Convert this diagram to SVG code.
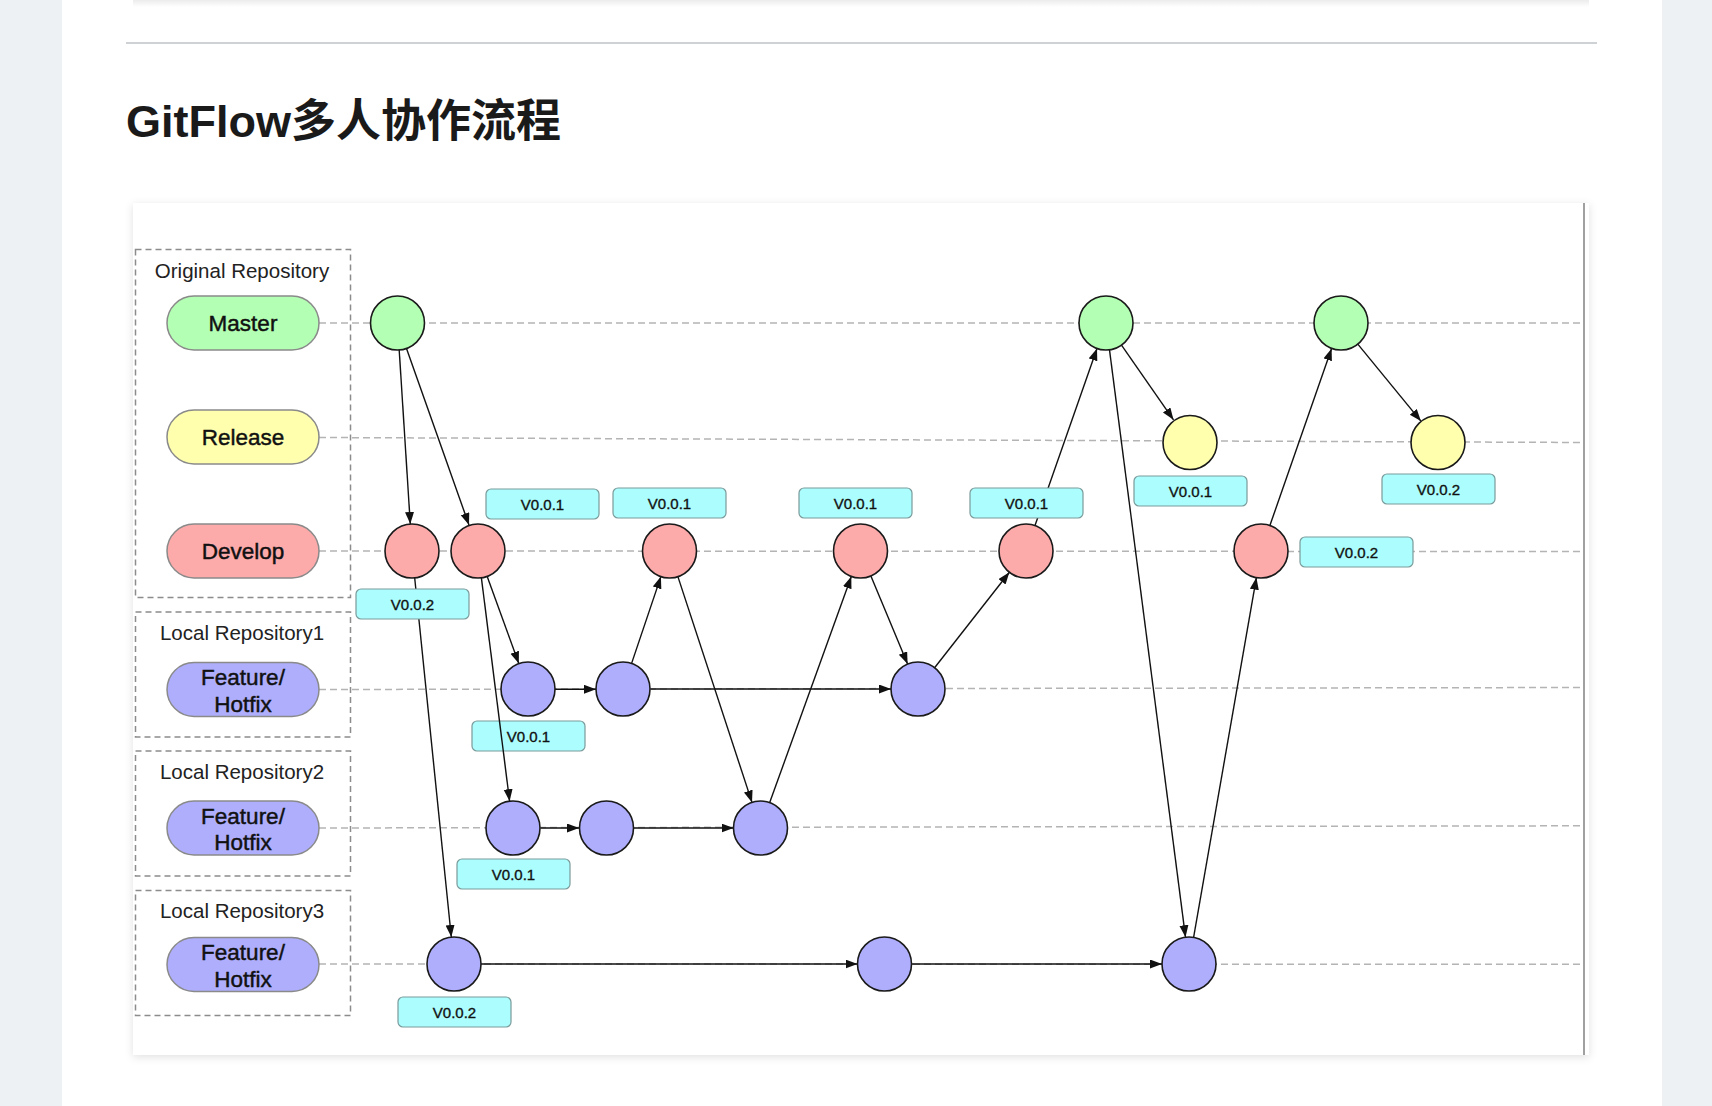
<svg xmlns="http://www.w3.org/2000/svg" width="1712" height="1106" viewBox="0 0 1712 1106">
<defs>
  <style>
    .lane{stroke:#b4b4b4;stroke-width:1.5;stroke-dasharray:7 4;fill:none}
    .box{stroke:#8c8c8c;stroke-width:1.5;stroke-dasharray:6 4;fill:none}
    .pill{stroke:#8a8a8a;stroke-width:1.5}
    .c{stroke:#1a1a1a;stroke-width:1.6}
    .g{fill:#b3ffb3}.y{fill:#ffffad}.r{fill:#fcaaaa}.p{fill:#aeaefc}
    .lbl{fill:#acfdfd;stroke:#7b9b9b;stroke-width:1.2}
    .edge{stroke:#111;stroke-width:1.4;fill:none;marker-end:url(#ah)}
    .pt{font-family:"Liberation Sans",Arial,sans-serif;font-size:22.5px;fill:#111;stroke:#111;stroke-width:0.45;text-anchor:middle}
    .rt{font-family:"Liberation Sans",Arial,sans-serif;font-size:20.5px;fill:#222;text-anchor:middle}
    .vt{font-family:"Liberation Sans",Arial,sans-serif;font-size:15px;fill:#111;stroke:#111;stroke-width:0.35;text-anchor:middle}
  </style>
  <marker id="ah" markerUnits="userSpaceOnUse" markerWidth="13" markerHeight="10" refX="12" refY="4.5" orient="auto">
    <path d="M0,0 L12,4.5 L0,9 z" fill="#111"/>
  </marker>
  <filter id="sh" x="-5%" y="-5%" width="110%" height="110%">
    <feDropShadow dx="0" dy="2" stdDeviation="4" flood-color="#000" flood-opacity="0.12"/>
  </filter>
  <linearGradient id="topsh" x1="0" y1="0" x2="0" y2="1">
    <stop offset="0" stop-color="#ececec"/>
    <stop offset="1" stop-color="#ffffff"/>
  </linearGradient>
</defs>

<!-- page -->
<rect x="0" y="0" width="1712" height="1106" fill="#eef1f3"/>
<rect x="62" y="0" width="1600" height="1106" fill="#ffffff"/>
<rect x="133" y="0" width="1456" height="7" fill="url(#topsh)"/>
<line x1="126" y1="43" x2="1597" y2="43" stroke="#cfd2d5" stroke-width="2"/>
<text x="126" y="137" font-family="'Liberation Sans','Noto Sans CJK SC',sans-serif" font-weight="bold" font-size="45" fill="#1a1a1a">GitFlow多人协作流程</text>

<!-- diagram image frame -->
<rect x="133" y="203" width="1456" height="852" fill="#ffffff" filter="url(#sh)"/>
<line x1="1584" y1="203" x2="1584" y2="1055" stroke="#a0a0a0" stroke-width="2"/>

<!-- lanes -->
<g id="lanes">
  <line class="lane" x1="319" y1="323" x2="1583" y2="323"/>
  <line class="lane" x1="319" y1="437.5" x2="1583" y2="442.5"/>
  <line class="lane" x1="319" y1="551" x2="1583" y2="551.5"/>
  <line class="lane" x1="319" y1="689.5" x2="1583" y2="687.5"/>
  <line class="lane" x1="319" y1="828" x2="1583" y2="825.8"/>
  <line class="lane" x1="319" y1="964" x2="1583" y2="964.3"/>
</g>

<!-- repository boxes -->
<g id="repo-original">
  <rect class="box" x="135.5" y="249.5" width="215" height="348"/>
  <text class="rt" x="242" y="278">Original Repository</text>
</g>
<g id="repo-local1">
  <rect class="box" x="135.5" y="612" width="215" height="125"/>
  <text class="rt" x="242" y="640">Local Repository1</text>
</g>
<g id="repo-local2">
  <rect class="box" x="135.5" y="751" width="215" height="125"/>
  <text class="rt" x="242" y="779">Local Repository2</text>
</g>
<g id="repo-local3">
  <rect class="box" x="135.5" y="890.5" width="215" height="125"/>
  <text class="rt" x="242" y="918">Local Repository3</text>
</g>

<!-- branch pills -->
<g id="pill-master"><rect class="pill g" x="167" y="296" width="152" height="54" rx="27"/><text class="pt" x="243" y="331">Master</text></g>
<g id="pill-release"><rect class="pill y" x="167" y="410" width="152" height="54" rx="27"/><text class="pt" x="243" y="445">Release</text></g>
<g id="pill-develop"><rect class="pill r" x="167" y="524" width="152" height="54" rx="27"/><text class="pt" x="243" y="559">Develop</text></g>
<g id="pill-feature1"><rect class="pill p" x="167" y="662.5" width="152" height="54" rx="27"/><text class="pt" x="243" y="685">Feature/</text><text class="pt" x="243" y="711.5">Hotfix</text></g>
<g id="pill-feature2"><rect class="pill p" x="167" y="801" width="152" height="54" rx="27"/><text class="pt" x="243" y="823.5">Feature/</text><text class="pt" x="243" y="850">Hotfix</text></g>
<g id="pill-feature3"><rect class="pill p" x="167" y="937.5" width="152" height="54" rx="27"/><text class="pt" x="243" y="960">Feature/</text><text class="pt" x="243" y="986.5">Hotfix</text></g>

<!-- connectors -->
<g id="connectors">
  <line class="edge" x1="399.2" y1="350" x2="410.3" y2="524"/>
  <line class="edge" x1="406.5" y1="348.5" x2="469" y2="525"/>
  <line class="edge" x1="414.7" y1="578" x2="451.3" y2="937"/>
  <line class="edge" x1="487.2" y1="576.4" x2="518.8" y2="663.5"/>
  <line class="edge" x1="555" y1="689.3" x2="596" y2="689.3"/>
  <line class="edge" x1="631.6" y1="663.4" x2="660.9" y2="576.6"/>
  <line class="edge" x1="650.5" y1="689" x2="891" y2="689"/>
  <line class="edge" x1="677.9" y1="576.6" x2="752" y2="802.4"/>
  <line class="edge" x1="540.5" y1="828" x2="579" y2="828"/>
  <line class="edge" x1="633.5" y1="828" x2="733.5" y2="828"/>
  <line class="edge" x1="769.7" y1="802.6" x2="851.3" y2="576.4"/>
  <line class="edge" x1="870.9" y1="575.9" x2="907.6" y2="664.1"/>
  <line class="edge" x1="934.6" y1="667.7" x2="1009.4" y2="572.3"/>
  <line class="edge" x1="1035" y1="525.5" x2="1097" y2="348.5"/>
  <line class="edge" x1="1121.5" y1="345.2" x2="1173.5" y2="419.8"/>
  <line class="edge" x1="1109.5" y1="349.8" x2="1185.5" y2="937.2"/>
  <line class="edge" x1="1193.6" y1="937.4" x2="1256.4" y2="577.6"/>
  <line class="edge" x1="1269.9" y1="525.5" x2="1331.6" y2="348.5"/>
  <line class="edge" x1="1357.6" y1="343.9" x2="1420.9" y2="421.1"/>
  <line class="edge" x1="481" y1="964" x2="857.5" y2="964"/>
  <line class="edge" x1="911" y1="964" x2="1162" y2="964"/>
</g>

<!-- commit nodes -->
<g id="m1"><circle class="c g" cx="397.5" cy="323" r="27"/></g>
<g id="m2"><circle class="c g" cx="1106" cy="323" r="27"/></g>
<g id="m3"><circle class="c g" cx="1341" cy="323" r="27"/></g>
<g id="rel1"><circle class="c y" cx="1190" cy="442.5" r="27"/></g>
<g id="rel2"><circle class="c y" cx="1438" cy="442.5" r="27"/></g>
<g id="d1"><circle class="c r" cx="412" cy="551" r="27"/></g>
<g id="d2"><circle class="c r" cx="478" cy="551" r="27"/></g>
<g id="d3"><circle class="c r" cx="669.5" cy="551" r="27"/></g>
<g id="d4"><circle class="c r" cx="860.5" cy="551" r="27"/></g>
<g id="d5"><circle class="c r" cx="1026" cy="551" r="27"/></g>
<g id="d6"><circle class="c r" cx="1261" cy="551" r="27"/></g>
<g id="f1a"><circle class="c p" cx="528" cy="689" r="27"/></g>
<g id="f1b"><circle class="c p" cx="623" cy="689" r="27"/></g>
<g id="f1c"><circle class="c p" cx="918" cy="689" r="27"/></g>
<g id="f2a"><circle class="c p" cx="513" cy="828" r="27"/></g>
<g id="f2b"><circle class="c p" cx="606.5" cy="828" r="27"/></g>
<g id="f2c"><circle class="c p" cx="760.5" cy="828" r="27"/></g>
<g id="f3a"><circle class="c p" cx="454" cy="964" r="27"/></g>
<g id="f3b"><circle class="c p" cx="884.5" cy="964" r="27"/></g>
<g id="f3c"><circle class="c p" cx="1189" cy="964" r="27"/></g>

<!-- version tags -->
<g id="tag1"><rect class="lbl" x="356" y="589" width="113" height="30" rx="5"/><text class="vt" x="412.5" y="609.5">V0.0.2</text></g>
<g id="tag2"><rect class="lbl" x="486" y="489" width="113" height="30" rx="5"/><text class="vt" x="542.5" y="509.5">V0.0.1</text></g>
<g id="tag3"><rect class="lbl" x="613" y="488" width="113" height="30" rx="5"/><text class="vt" x="669.5" y="508.5">V0.0.1</text></g>
<g id="tag4"><rect class="lbl" x="799" y="488" width="113" height="30" rx="5"/><text class="vt" x="855.5" y="508.5">V0.0.1</text></g>
<g id="tag5"><rect class="lbl" x="970" y="488" width="113" height="30" rx="5"/><text class="vt" x="1026.5" y="508.5">V0.0.1</text></g>
<g id="tag6"><rect class="lbl" x="1134" y="476" width="113" height="30" rx="5"/><text class="vt" x="1190.5" y="496.5">V0.0.1</text></g>
<g id="tag7"><rect class="lbl" x="1382" y="474" width="113" height="30" rx="5"/><text class="vt" x="1438.5" y="494.5">V0.0.2</text></g>
<g id="tag8"><rect class="lbl" x="1300" y="537" width="113" height="30" rx="5"/><text class="vt" x="1356.5" y="557.5">V0.0.2</text></g>
<g id="tag9"><rect class="lbl" x="472" y="721" width="113" height="30" rx="5"/><text class="vt" x="528.5" y="741.5">V0.0.1</text></g>
<g id="tag10"><rect class="lbl" x="457" y="859" width="113" height="30" rx="5"/><text class="vt" x="513.5" y="879.5">V0.0.1</text></g>
<g id="tag11"><rect class="lbl" x="398" y="997" width="113" height="30" rx="5"/><text class="vt" x="454.5" y="1017.5">V0.0.2</text></g>

<!-- connector drawn over its tag -->
<g id="connectors-front">
  <line class="edge" x1="481.4" y1="577.8" x2="509.6" y2="801.2"/>
</g>
</svg>
